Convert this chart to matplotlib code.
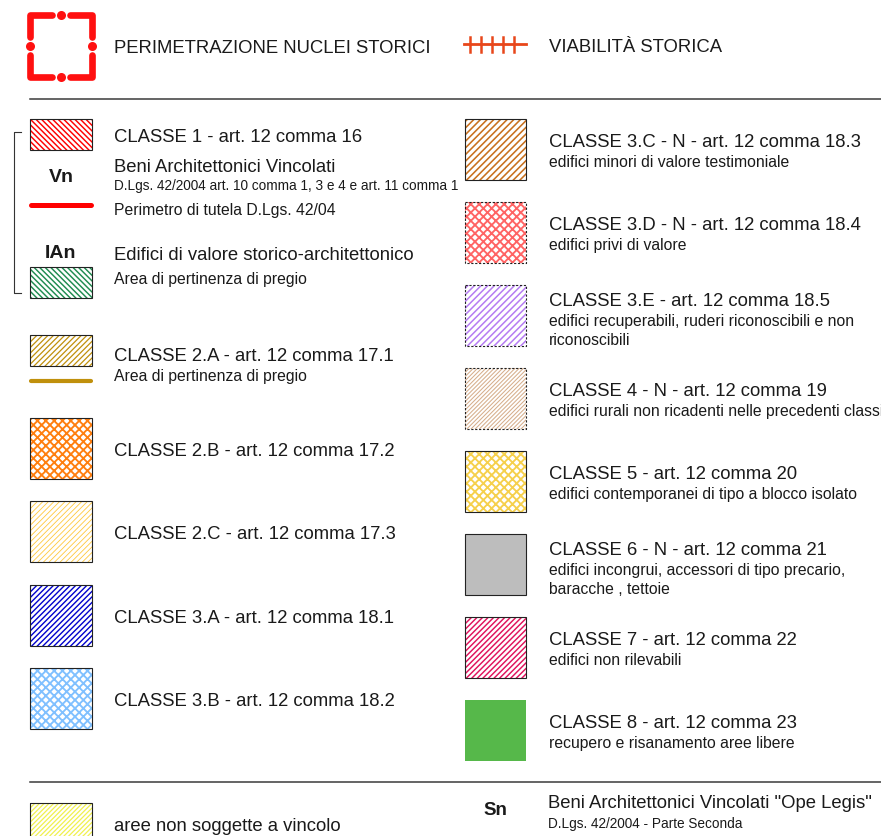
import matplotlib
matplotlib.use("Agg")
import matplotlib.pyplot as plt
from matplotlib.patches import Rectangle

plt.rcParams['font.family'] = ['Liberation Sans', 'DejaVu Sans']

# legend content
left_titles = ["CLASSE 2.B - art. 12 comma 17.2",
               "CLASSE 2.C - art. 12 comma 17.3",
               "CLASSE 3.A - art. 12 comma 18.1",
               "CLASSE 3.B - art. 12 comma 18.2"]
left_colors = ["#ff7f0f", "#ffc83c", "#0000cc", "#80c0ff"]
left_hatches = ["xxxx", "//////", "//////", "xxxx"]
left_hatch_lw = [1.35, 0.6, 1.0, 1.35]

right_titles = ["CLASSE 3.C - N - art. 12 comma 18.3",
                "CLASSE 3.D - N - art. 12 comma 18.4",
                "CLASSE 3.E - art. 12 comma 18.5",
                "CLASSE 4 - N - art. 12 comma 19",
                "CLASSE 5 - art. 12 comma 20",
                "CLASSE 6 - N - art. 12 comma 21",
                "CLASSE 7 - art. 12 comma 22",
                "CLASSE 8 - art. 12 comma 23"]
right_subs = [["edifici minori di valore testimoniale"],
              ["edifici privi di valore"],
              ["edifici recuperabili, ruderi riconoscibili e non", "riconoscibili"],
              ["edifici rurali non ricadenti nelle precedenti classi"],
              ["edifici contemporanei di tipo a blocco isolato"],
              ["edifici incongrui, accessori di tipo precario,", "baracche , tettoie"],
              ["edifici non rilevabili"],
              ["recupero e risanamento aree libere"]]
right_colors = ["#c8701e", "#ff6464", "#b57cf2", "#d6ae8c",
                "#f6d04c", "#bdbdbd", "#e0125c", "#56b84a"]
right_hatches = ["/////", "xxxx", "/////", "////////", "xxxx", None, "//////", None]
right_hatch_lw = [1.15, 1.35, 1.1, 0.75, 1.35, 0, 1.05, 0]
right_dashed = [False, True, True, True, False, False, False, False]

TXT = "#1a1a1a"
BIG = 13.3
SMALL = 11.3
TINY = 9.8


def hatched_box(ax, x, y, w, h, color, hatch, hlw, dashed=False, border=True):
    if hatch is None:
        ax.add_patch(Rectangle((x, y), w, h, facecolor=color, edgecolor="none"))
    else:
        with plt.rc_context({'hatch.linewidth': hlw}):
            p = Rectangle((x, y), w, h, facecolor="white", edgecolor=color,
                          linewidth=0, hatch=hatch)
            if hasattr(p, "set_hatch_linewidth"):
                p.set_hatch_linewidth(hlw)
            ax.add_patch(p)
    if border:
        ax.add_patch(Rectangle((x, y), w, h, facecolor="none", edgecolor="#222222",
                               linewidth=0.8, linestyle=(0, (2, 1.5)) if dashed else "-"))


fig = plt.figure(figsize=(8.81, 8.36), dpi=100)
ax = fig.add_axes([0, 0, 1, 1])
ax.set_xlim(0, 881)
ax.set_ylim(836, 0)
ax.axis("off")

# --- header: perimeter symbol
red = "#ff1010"
cx, cy, hs, arm = 61, 46, 31, 22
kw = dict(color=red, lw=4.8, solid_capstyle="round", solid_joinstyle="round")
for sx in (-1, 1):
    for sy in (-1, 1):
        ax.plot([cx + sx * hs, cx + sx * hs, cx + sx * (hs - arm)],
                [cy + sy * (hs - arm), cy + sy * hs, cy + sy * hs], **kw)
ax.plot([cx, cx + hs, cx, cx - hs], [cy - hs, cy, cy + hs, cy], "o",
        color=red, ms=6.5, mec="none")
ax.text(114, 53, "PERIMETRAZIONE NUCLEI STORICI", fontsize=BIG, color=TXT, va="baseline")

# viabilita storica symbol
orange = "#e8461a"
ax.plot([464, 526], [44, 44], color=orange, lw=2)
for tx in (470, 481, 492, 503, 514):
    ax.plot([tx, tx], [37, 52], color=orange, lw=1.8)
ax.text(549, 52, "VIABILITÀ STORICA", fontsize=BIG, color=TXT, va="baseline")

# separators
ax.plot([30, 881], [99, 99], color="#3a3a3a", lw=1.1)
ax.plot([30, 881], [782, 782], color="#3a3a3a", lw=1.1)

# --- classe 1 group
hatched_box(ax, 30, 119, 62, 31, "#ff0000", "\\\\\\\\\\\\", 1.05)
ax.text(114, 142, "CLASSE 1 - art. 12 comma 16", fontsize=BIG, color=TXT, va="baseline")
ax.text(61, 182, "Vn", fontsize=14, fontweight="bold", color=TXT, ha="center", va="baseline")
ax.text(114, 172, "Beni Architettonici Vincolati", fontsize=BIG, color=TXT, va="baseline")
ax.text(114, 190, "D.Lgs. 42/2004 art. 10 comma 1, 3 e 4 e art. 11 comma 1",
        fontsize=TINY, color=TXT, va="baseline")
ax.plot([31, 91], [205, 205], color="#ff0000", lw=3.6, solid_capstyle="round")
ax.text(114, 215, "Perimetro di tutela D.Lgs. 42/04", fontsize=SMALL, color=TXT, va="baseline")
ax.text(60, 258, "IAn", fontsize=14, fontweight="bold", color=TXT, ha="center", va="baseline")
ax.text(114, 260, "Edifici di valore storico-architettonico", fontsize=BIG, color=TXT, va="baseline")
hatched_box(ax, 30, 267, 62, 31, "#1f8c50", "\\\\\\\\\\\\", 1.05)
ax.text(114, 284, "Area di pertinenza di pregio", fontsize=SMALL, color=TXT, va="baseline")
# bracket
ax.plot([21, 14, 14, 21], [132, 132, 293, 293], color="#333333", lw=0.8)

# --- classe 2.A
hatched_box(ax, 30, 335, 62, 31, "#c0900c", "//////", 0.9)
ax.text(114, 361, "CLASSE 2.A - art. 12 comma 17.1", fontsize=BIG, color=TXT, va="baseline")
ax.plot([31, 91], [381, 381], color="#c0900c", lw=3, solid_capstyle="round")
ax.text(114, 381, "Area di pertinenza di pregio", fontsize=SMALL, color=TXT, va="baseline")

# --- left column
for i, title in enumerate(left_titles):
    top = 418 + 83.3 * i
    hatched_box(ax, 30, top, 62, 61, left_colors[i], left_hatches[i], left_hatch_lw[i])
    ax.text(114, top + 38, title, fontsize=BIG, color=TXT, va="baseline")

# --- right column
for i, title in enumerate(right_titles):
    top = 119 + 83 * i
    hatched_box(ax, 465, top, 61, 61, right_colors[i], right_hatches[i], right_hatch_lw[i],
                dashed=right_dashed[i], border=(i != 7))
    subs = right_subs[i]
    base = top + 28 - 7 * (len(subs) - 1)
    ax.text(549, base, title, fontsize=BIG, color=TXT, va="baseline")
    for j, s in enumerate(subs):
        ax.text(549, base + 20 + 19 * j, s, fontsize=SMALL, color=TXT, va="baseline")

# --- bottom row
hatched_box(ax, 30, 803, 62, 40, "#f0f050", "///////", 0.9)
ax.text(114, 831, "aree non soggette a vincolo", fontsize=BIG, color=TXT, va="baseline")
ax.text(495, 815, "Sn", fontsize=13.5, fontweight="bold", color=TXT, ha="center", va="baseline")
ax.text(548, 808, 'Beni Architettonici Vincolati "Ope Legis"', fontsize=BIG, color=TXT, va="baseline")
ax.text(548, 828, "D.Lgs. 42/2004 - Parte Seconda", fontsize=TINY, color=TXT, va="baseline")

fig.savefig("out.png", dpi=100)
